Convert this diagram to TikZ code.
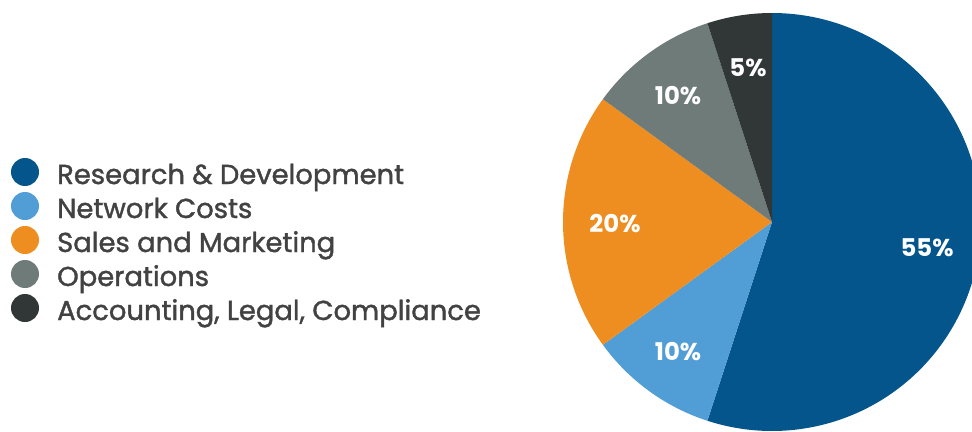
\documentclass[tikz,border=0pt]{standalone}
\usepackage{fontspec}
\setmainfont{Poppins}
\newfontfamily\legendfont{Poppins}[FakeBold=1.4]
\usepackage{xcolor}
\usepackage{tikz}
\usetikzlibrary{calc}

\definecolor{rdblue}{HTML}{03558B}
\definecolor{netblue}{HTML}{519DD5}
\definecolor{salesorange}{HTML}{EE8E21}
\definecolor{opsgray}{HTML}{6F7B79}
\definecolor{acctdark}{HTML}{313637}
\definecolor{legendtext}{HTML}{424242}

\tikzset{
  dot/.style={circle,inner sep=0pt,minimum size=28bp},
  legendlabel/.style={anchor=base west,inner sep=0pt,text=legendtext,font=\legendfont\fontsize{27.5}{27.5}\selectfont},
  pct/.style={text=white,inner sep=0pt,font=\bfseries\fontsize{24.5}{24.5}\selectfont}
}

\begin{document}
\begin{tikzpicture}[x=1bp,y=1bp]
\useasboundingbox (0,0) rectangle (972,431);
\clip (0,0) rectangle (972,431);
\coordinate (P) at (772,209);
% slices, clockwise from the top
\fill[rdblue] (P) -- ++(90:209) arc[start angle=90,end angle=-108,radius=209] -- cycle;
\fill[netblue] (P) -- ++(-108:209) arc[start angle=-108,end angle=-144,radius=209] -- cycle;
\fill[salesorange] (P) -- ++(-144:209) arc[start angle=-144,end angle=-216,radius=209] -- cycle;
\fill[opsgray] (P) -- ++(144:209) arc[start angle=144,end angle=108,radius=209] -- cycle;
\fill[acctdark] (P) -- ++(108:209) arc[start angle=108,end angle=90,radius=209] -- cycle;
\node[pct] (prd) at (927,183) {55\%};
\node[pct] (pnet) at (678,79) {10\%};
\node[pct] (psales) at (615,207) {20\%};
\node[pct] (pops) at (678,335) {10\%};
\node[pct] (pacct) at (748,363) {5\%};
% legend
\node[dot,fill=rdblue] (Drd) at (25,259) {};
\node[dot,fill=netblue] (Dnet) at (25,225) {};
\node[dot,fill=salesorange] (Dsales) at (25,191) {};
\node[dot,fill=opsgray] (Dops) at (25,157) {};
\node[dot,fill=acctdark] (Dacct) at (25,123) {};
\node[legendlabel] (Lrd) at (57,247) {Research \& Development};
\node[legendlabel] (Lnet) at (57,213) {Network Costs};
\node[legendlabel] (Lsales) at (57,179) {Sales and Marketing};
\node[legendlabel] (Lops) at (57,145) {Operations};
\node[legendlabel] (Lacct) at (57,111) {Accounting, Legal, Compliance};
\end{tikzpicture}
\end{document}
